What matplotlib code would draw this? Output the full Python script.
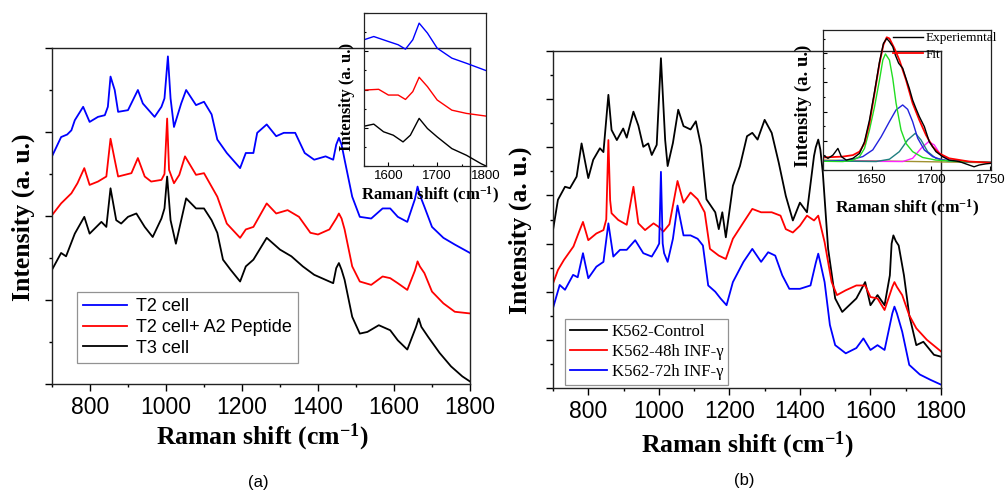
import matplotlib
matplotlib.use("Agg")
import matplotlib.pyplot as plt
from matplotlib.ticker import FixedLocator, MultipleLocator, NullFormatter

plt.rcParams["font.family"] = "Liberation Sans"
plt.rcParams["mathtext.fontset"] = "custom"
plt.rcParams["mathtext.rm"] = "Liberation Serif:bold"
plt.rcParams["mathtext.it"] = "Liberation Serif:bold"
plt.rcParams["mathtext.bf"] = "Liberation Serif:bold"

# ---- panel (a): main spectra ----
a_shift_blue = [700, 724, 740, 751, 760, 782, 799, 821, 839, 847, 854, 865, 874, 900, 926, 939, 970, 988, 996,
                1005, 1012, 1021, 1040, 1053, 1079, 1100, 1120, 1135, 1160, 1195, 1210, 1230, 1240, 1265, 1290,
                1310, 1340, 1365, 1390, 1420, 1440, 1448, 1455, 1462, 1470, 1490, 1510, 1540, 1570, 1590, 1610,
                1635, 1655, 1662, 1668, 1680, 1700, 1730, 1760, 1800]
a_t2 = [2.71, 2.94, 2.97, 3.02, 3.14, 3.30, 3.12, 3.18, 3.20, 3.30, 3.66, 3.50, 3.24, 3.26, 3.50, 3.34, 3.18, 3.30,
        3.40, 3.90, 3.40, 3.06, 3.34, 3.50, 3.32, 3.36, 3.21, 2.91, 2.75, 2.57, 2.75, 2.75, 2.99, 3.09, 2.95,
        2.99, 2.99, 2.75, 2.67, 2.71, 2.67, 2.85, 2.93, 2.85, 2.67, 2.23, 1.99, 1.97, 2.09, 2.09, 1.99,
        1.93, 2.20, 2.35, 2.25, 2.11, 1.87, 1.74, 1.66, 1.56]

a_shift_red = [700, 724, 751, 767, 785, 799, 821, 843, 854, 865, 874, 909, 926, 944, 961, 988, 996, 1003, 1008,
               1021, 1035, 1050, 1079, 1100, 1120, 1135, 1160, 1195, 1210, 1230, 1265, 1290, 1320, 1350, 1380,
               1400, 1430, 1448, 1455, 1462, 1470, 1490, 1510, 1540, 1570, 1590, 1610, 1635, 1655, 1662, 1668,
               1680, 1700, 1730, 1760, 1800]
a_t2_pep = [2.01, 2.15, 2.27, 2.39, 2.57, 2.37, 2.41, 2.47, 2.92, 2.67, 2.47, 2.51, 2.69, 2.47, 2.41, 2.43, 2.50,
            3.16, 2.55, 2.39, 2.49, 2.71, 2.49, 2.51, 2.35, 2.23, 1.91, 1.74, 1.84, 1.87, 2.15, 2.03, 2.07,
            1.99, 1.80, 1.78, 1.84, 1.97, 2.03, 1.97, 1.84, 1.40, 1.22, 1.18, 1.28, 1.26, 1.20, 1.12, 1.35,
            1.46, 1.40, 1.32, 1.10, 0.96, 0.86, 0.84]

a_shift_black = [700, 724, 737, 760, 785, 799, 830, 843, 854, 869, 882, 900, 922, 944, 965, 988, 996, 1003, 1012,
                 1026, 1040, 1053, 1079, 1100, 1120, 1135, 1150, 1170, 1195, 1210, 1230, 1265, 1300, 1330, 1360,
                 1390, 1420, 1440, 1448, 1455, 1462, 1470, 1490, 1510, 1530, 1560, 1590, 1610, 1635, 1658, 1665,
                 1672, 1690, 1720, 1750, 1780, 1800]
a_t3 = [1.36, 1.56, 1.52, 1.79, 1.99, 1.79, 1.93, 1.87, 2.33, 1.95, 1.91, 1.99, 2.03, 1.87, 1.75, 1.97, 2.09, 2.47,
        1.95, 1.67, 1.95, 2.21, 2.09, 2.09, 1.95, 1.80, 1.48, 1.36, 1.22, 1.40, 1.48, 1.74, 1.60, 1.52, 1.40,
        1.30, 1.24, 1.20, 1.38, 1.44, 1.36, 1.24, 0.80, 0.60, 0.62, 0.70, 0.64, 0.52, 0.41, 0.68, 0.78,
        0.68, 0.56, 0.37, 0.21, 0.09, 0.03]

a_labels = ["T2 cell", "T2 cell+ A2 Peptide", "T3 cell"]

# ---- panel (a): inset amide I region ----
ai_shift_blue = [1550, 1570, 1600, 1620, 1635, 1650, 1663, 1680, 1700, 1730, 1760, 1800]
ai_t2 = [6.60, 6.77, 6.51, 6.34, 6.11, 6.60, 7.47, 6.95, 6.16, 5.64, 5.37, 4.99]
ai_shift_red = [1550, 1580, 1600, 1620, 1635, 1650, 1663, 1680, 1700, 1730, 1760, 1800]
ai_t2_pep = [3.97, 4.01, 3.71, 3.71, 3.48, 3.89, 4.64, 4.15, 3.45, 2.92, 2.75, 2.61]
ai_shift_black = [1550, 1570, 1590, 1610, 1630, 1645, 1663, 1680, 1700, 1730, 1760, 1790, 1800]
ai_t3 = [2.08, 2.19, 1.79, 1.61, 1.26, 1.61, 2.49, 1.96, 1.52, 0.91, 0.56, 0.12, 0.00]

# ---- panel (b): main spectra ----
b_shift_black = [700, 714, 734, 748, 767, 781, 800, 814, 833, 843, 857, 866, 881, 899, 909, 928, 942, 956, 970,
                 980, 994, 1006, 1018, 1025, 1040, 1055, 1070, 1090, 1105, 1120, 1135, 1160, 1170, 1180, 1190,
                 1210, 1230, 1250, 1265, 1280, 1300, 1320, 1340, 1360, 1380, 1400, 1420, 1440, 1445, 1452, 1458,
                 1465, 1480, 1500, 1520, 1540, 1560, 1585, 1600, 1620, 1640, 1655, 1660, 1665, 1672, 1680, 1695,
                 1710, 1730, 1750, 1780, 1800]
b_control = [3.28, 3.91, 4.18, 4.15, 4.39, 5.08, 4.36, 4.74, 4.98, 4.90, 6.09, 5.36, 5.15, 5.39, 5.20, 5.74, 5.45,
             5.01, 5.08, 4.84, 5.05, 6.85, 5.15, 4.61, 5.09, 5.78, 5.44, 5.37, 5.54, 5.02, 3.92, 3.65, 3.30,
             3.65, 3.13, 4.20, 4.61, 5.23, 5.30, 5.16, 5.57, 5.30, 4.68, 3.99, 3.48, 3.85, 3.65, 4.82, 5.00,
             5.16, 4.95, 4.47, 2.89, 1.86, 1.58, 1.72, 1.86, 2.20, 1.72, 1.93, 1.72, 2.34, 3.00, 3.17, 3.05,
             2.96, 2.34, 1.51, 0.89, 0.96, 0.69, 0.65]

b_shift_red = [700, 714, 731, 758, 772, 785, 800, 823, 843, 851, 857, 862, 866, 885, 909, 928, 942, 961, 985, 999,
               1013, 1030, 1040, 1053, 1070, 1090, 1110, 1130, 1145, 1170, 1190, 1210, 1240, 1265, 1290, 1320,
               1345, 1360, 1380, 1400, 1420, 1440, 1452, 1470, 1490, 1505, 1530, 1560, 1585, 1600, 1620, 1640,
               1662, 1668, 1675, 1690, 1710, 1730, 1760, 1800]
b_48h = [2.17, 2.45, 2.66, 2.94, 3.21, 3.45, 3.07, 3.21, 3.28, 3.50, 5.15, 3.90, 3.63, 3.49, 3.39, 4.18, 3.42,
         3.28, 3.42, 3.35, 3.25, 3.40, 3.79, 4.30, 3.85, 4.06, 3.92, 3.65, 2.89, 2.75, 2.68, 3.10, 3.44, 3.72,
         3.65, 3.65, 3.58, 3.30, 3.23, 3.37, 3.58, 3.48, 3.58, 3.03, 2.20, 1.93, 2.03, 2.13, 2.13, 1.89,
         1.86, 1.62, 2.10, 2.20, 2.10, 1.93, 1.51, 1.24, 1.00, 0.76]

b_shift_blue = [700, 719, 734, 757, 770, 785, 800, 823, 843, 857, 871, 890, 909, 933, 956, 980, 994, 1001, 1006,
                1011, 1015, 1025, 1040, 1053, 1070, 1090, 1110, 1125, 1140, 1160, 1175, 1192, 1210, 1240, 1265,
                1290, 1310, 1330, 1350, 1370, 1400, 1430, 1445, 1452, 1458, 1470, 1485, 1500, 1530, 1560, 1580,
                1600, 1620, 1640, 1662, 1668, 1675, 1690, 1710, 1740, 1770, 1800]
b_72h = [1.66, 2.14, 2.04, 2.35, 2.30, 2.80, 2.28, 2.52, 2.62, 3.42, 2.73, 2.87, 2.87, 3.07, 2.80, 2.73, 2.90,
         3.00, 4.49, 3.00, 2.80, 2.62, 3.10, 3.79, 3.17, 3.17, 3.10, 2.96, 2.13, 2.00, 1.86, 1.72, 2.20, 2.62,
         2.89, 2.62, 2.82, 2.75, 2.34, 2.06, 2.06, 2.13, 2.60, 2.79, 2.60, 2.20, 1.31, 0.89, 0.72, 0.83,
         1.03, 0.79, 0.89, 0.79, 1.55, 1.69, 1.55, 1.17, 0.48, 0.28, 0.17, 0.07]

b_labels = ["K562-Control", "K562-48h INF-\u03b3", "K562-72h INF-\u03b3"]

# ---- panel (b): inset band fit ----
bi_shift_exp = [1608.4, 1612.6, 1616.8, 1621.0, 1623.9, 1628.1, 1633.7, 1639.3, 1643.5, 1647.7, 1652.0, 1656.2,
                1659.5, 1662.3, 1664.6, 1667.4, 1669.6, 1672.4, 1675.8, 1678.6, 1681.4, 1684.2, 1687.0, 1689.9,
                1694.1, 1698.3, 1703.9, 1709.5, 1715.1, 1723.6, 1732.0, 1736.2, 1740.4, 1746.0, 1750.5]
bi_exp = [0.51, 0.40, 0.51, 0.74, 0.46, 0.34, 0.40, 0.57, 0.97, 1.71, 2.69, 3.71,
          4.34, 4.51, 4.40, 4.23, 3.94, 3.66, 3.49, 3.14, 2.80, 2.40, 2.11, 1.83,
          1.49, 0.97, 0.63, 0.46, 0.34, 0.29, 0.17, 0.11, 0.17, 0.21, 0.23]
bi_shift_fit = [1608.4, 1625.2, 1633.7, 1639.3, 1643.5, 1647.7, 1652.0, 1656.2, 1659.5, 1662.3, 1664.6, 1668.8,
                1673.0, 1678.6, 1684.2, 1689.9, 1695.5, 1701.1, 1706.7, 1715.1, 1732.0, 1750.5]
bi_fit = [0.43, 0.46, 0.51, 0.63, 0.91, 1.60, 2.63, 3.66, 4.29, 4.55, 4.51, 4.17,
          3.77, 3.09, 2.29, 1.71, 1.20, 0.80, 0.57, 0.40, 0.29, 0.25]
bi_shift_g1 = [1608.4, 1625.2, 1633.7, 1639.3, 1643.5, 1647.7, 1652.0, 1656.2, 1659.0, 1661.2, 1664.6, 1667.4,
               1670.2, 1674.4, 1678.6, 1684.2, 1692.7, 1703.9, 1723.6, 1750.5]
bi_g1 = [0.30, 0.29, 0.34, 0.46, 0.74, 1.37, 2.17, 3.09, 3.77, 3.98, 3.77, 3.14,
         2.29, 1.37, 0.91, 0.63, 0.43, 0.34, 0.29, 0.26]
bi_shift_g2 = [1608.4, 1630.9, 1642.1, 1650.5, 1657.6, 1664.6, 1670.2, 1675.8, 1680.0, 1684.2, 1688.5, 1694.1,
               1701.1, 1709.5, 1723.6, 1750.5]
bi_g2 = [0.30, 0.34, 0.46, 0.69, 1.14, 1.66, 2.06, 2.23, 2.08, 1.66, 1.09, 0.69, 0.46, 0.34, 0.29, 0.26]
bi_shift_g3 = [1608.4, 1653.3, 1664.6, 1673.0, 1680.0, 1686.5, 1691.3, 1696.9, 1703.9, 1715.1, 1750.5]
bi_g3 = [0.31, 0.29, 0.37, 0.63, 1.03, 1.26, 1.03, 0.63, 0.40, 0.31, 0.26]
bi_shift_g4 = [1608.4, 1675.8, 1684.2, 1691.3, 1697.7, 1702.5, 1708.1, 1715.1, 1726.4, 1750.5]
bi_g4 = [0.31, 0.29, 0.40, 0.74, 0.97, 0.86, 0.51, 0.34, 0.29, 0.26]
bi_shift_base = [1608.4, 1750.5]
bi_base = [0.34, 0.25]

W, H = 1005, 492
SERIF = "Liberation Serif"
SANS = "Liberation Sans"


def fig_rect(x0, y0, x1, y1):
    """pixel box (top-left origin) -> figure fraction rect"""
    return [x0 / W, 1 - y1 / H, (x1 - x0) / W, (y1 - y0) / H]


def style_main(ax, ymax):
    ax.set_xlim(700, 1800)
    ax.set_ylim(0, ymax)
    ax.xaxis.set_major_locator(FixedLocator([800, 1000, 1200, 1400, 1600, 1800]))
    ax.xaxis.set_minor_locator(MultipleLocator(100))
    ax.yaxis.set_major_locator(MultipleLocator(1))
    ax.yaxis.set_minor_locator(MultipleLocator(0.5))
    ax.yaxis.set_major_formatter(NullFormatter())
    ax.tick_params(which="major", direction="out", length=5, width=1, labelsize=16.5, pad=4)
    ax.tick_params(which="minor", direction="out", length=2.5, width=1)
    for lbl in ax.get_xticklabels():
        lbl.set_fontfamily(SANS)
    for sp in ax.spines.values():
        sp.set_linewidth(1.0)
        sp.set_color("#222222")


def style_inset(ax, xlim, ylim, xmajor, xminor, ymajor, yminor):
    ax.set_facecolor("none")
    ax.set_xlim(*xlim)
    ax.set_ylim(*ylim)
    ax.xaxis.set_major_locator(FixedLocator(xmajor))
    if xminor:
        ax.xaxis.set_minor_locator(MultipleLocator(xminor))
    ax.yaxis.set_major_locator(MultipleLocator(ymajor))
    ax.yaxis.set_minor_locator(MultipleLocator(yminor))
    ax.yaxis.set_major_formatter(NullFormatter())
    ax.tick_params(which="major", direction="in", length=3, width=0.8, labelsize=9.5, pad=3)
    ax.tick_params(which="minor", direction="in", length=1.5, width=0.8)
    for lbl in ax.get_xticklabels():
        lbl.set_fontfamily(SANS)
    for sp in ax.spines.values():
        sp.set_linewidth(0.9)
        sp.set_color("#222222")


fig = plt.figure(figsize=(W / 100, H / 100), dpi=100)

# ---------- (a) ----------
ax_a = fig.add_axes(fig_rect(52, 48, 470, 384))
ax_a.plot(a_shift_blue, a_t2, color="#0000ff", lw=1.3, label=a_labels[0])
ax_a.plot(a_shift_red, a_t2_pep, color="#ff0000", lw=1.3, label=a_labels[1])
ax_a.plot(a_shift_black, a_t3, color="black", lw=1.3, label=a_labels[2])
style_main(ax_a, 4)
leg = ax_a.legend(loc="lower left", bbox_to_anchor=(77 / W, 1 - 363 / H), bbox_transform=fig.transFigure,
                  prop={"family": SANS, "size": 13}, fancybox=False, edgecolor="#777777",
                  handlelength=2.4, labelspacing=0.2, borderaxespad=0, borderpad=0.35, handletextpad=0.5)
leg.get_frame().set_linewidth(0.9)

fig.text(262 / W, 1 - 437 / H, r"Raman shift (cm$^{-1}$)", family=SERIF, weight="bold", size=18.5,
         ha="center", va="center")
fig.text(23 / W, 1 - 217 / H, "Intensity (a. u.)", family=SERIF, weight="bold", size=18.5,
         rotation=90, ha="center", va="center")
fig.text(258 / W, 1 - 482 / H, "(a)", family=SANS, size=12, ha="center", va="center")

ax_ai = fig.add_axes(fig_rect(364, 13, 486, 166))
ax_ai.plot(ai_shift_blue, ai_t2, color="#0000ff", lw=1.0)
ax_ai.plot(ai_shift_red, ai_t2_pep, color="#ff0000", lw=1.0)
ax_ai.plot(ai_shift_black, ai_t3, color="black", lw=1.0)
style_inset(ax_ai, (1550, 1800), (0, 8), [1600, 1700, 1800], 50, 2, 1)
fig.text(430 / W, 1 - 195 / H, r"Raman shift (cm$^{-1}$)", family=SERIF, weight="bold", size=12,
         ha="center", va="center")
fig.text(347 / W, 1 - 97 / H, "Intensity (a. u.)", family=SERIF, weight="bold", size=12,
         rotation=90, ha="center", va="center")

# ---------- (b) ----------
ax_b = fig.add_axes(fig_rect(553, 51, 941, 388))
ax_b.plot(b_shift_black, b_control, color="black", lw=1.3, label=b_labels[0])
ax_b.plot(b_shift_red, b_48h, color="#ff0000", lw=1.3, label=b_labels[1])
ax_b.plot(b_shift_blue, b_72h, color="#0000ff", lw=1.3, label=b_labels[2])
style_main(ax_b, 7)
leg = ax_b.legend(loc="lower left", bbox_to_anchor=(565 / W, 1 - 385 / H), bbox_transform=fig.transFigure,
                  prop={"family": SERIF, "size": 12}, fancybox=False, edgecolor="#777777",
                  handlelength=2.2, labelspacing=0.25, borderaxespad=0, borderpad=0.3, handletextpad=0.3)
leg.get_frame().set_linewidth(0.9)

fig.text(747 / W, 1 - 445 / H, r"Raman shift (cm$^{-1}$)", family=SERIF, weight="bold", size=18.5,
         ha="center", va="center")
fig.text(520 / W, 1 - 230 / H, "Intensity (a. u.)", family=SERIF, weight="bold", size=18.5,
         rotation=90, ha="center", va="center")
fig.text(744 / W, 1 - 481 / H, "(b)", family=SANS, size=12, ha="center", va="center")

ax_bi = fig.add_axes(fig_rect(823, 30, 991, 170))
ax_bi.plot(bi_shift_base, bi_base, color="#a09030", lw=1.0)
ax_bi.plot(bi_shift_g4, bi_g4, color="#ff22ff", lw=1.0)
ax_bi.plot(bi_shift_g3, bi_g3, color="#1f7f80", lw=1.0)
ax_bi.plot(bi_shift_g2, bi_g2, color="#2222dd", lw=1.0)
ax_bi.plot(bi_shift_g1, bi_g1, color="#22dd22", lw=1.0)
fit_line, = ax_bi.plot(bi_shift_fit, bi_fit, color="#ff0000", lw=1.3, label="Fit")
exp_line, = ax_bi.plot(bi_shift_exp, bi_exp, color="black", lw=1.0, label="Experiemntal")
style_inset(ax_bi, (1608.4, 1750.5), (0, 4.8), [1650, 1700, 1750], None, 1, 0.5)
ax_bi.legend([exp_line, fit_line], ["Experiemntal", "Fit"], loc="upper left",
             bbox_to_anchor=(893 / W, 1 - 32 / H), bbox_transform=fig.transFigure,
             prop={"family": SERIF, "size": 9.5}, frameon=False, handlelength=2.3,
             labelspacing=0.35, borderaxespad=0, borderpad=0, handletextpad=0.15)
fig.text(907 / W, 1 - 208 / H, r"Raman shift (cm$^{-1}$)", family=SERIF, weight="bold", size=12.5,
         ha="center", va="center")
fig.text(803 / W, 1 - 106 / H, "Intensity (a. u.)", family=SERIF, weight="bold", size=13.5,
         rotation=90, ha="center", va="center")

fig.savefig("out.png", dpi=100)
